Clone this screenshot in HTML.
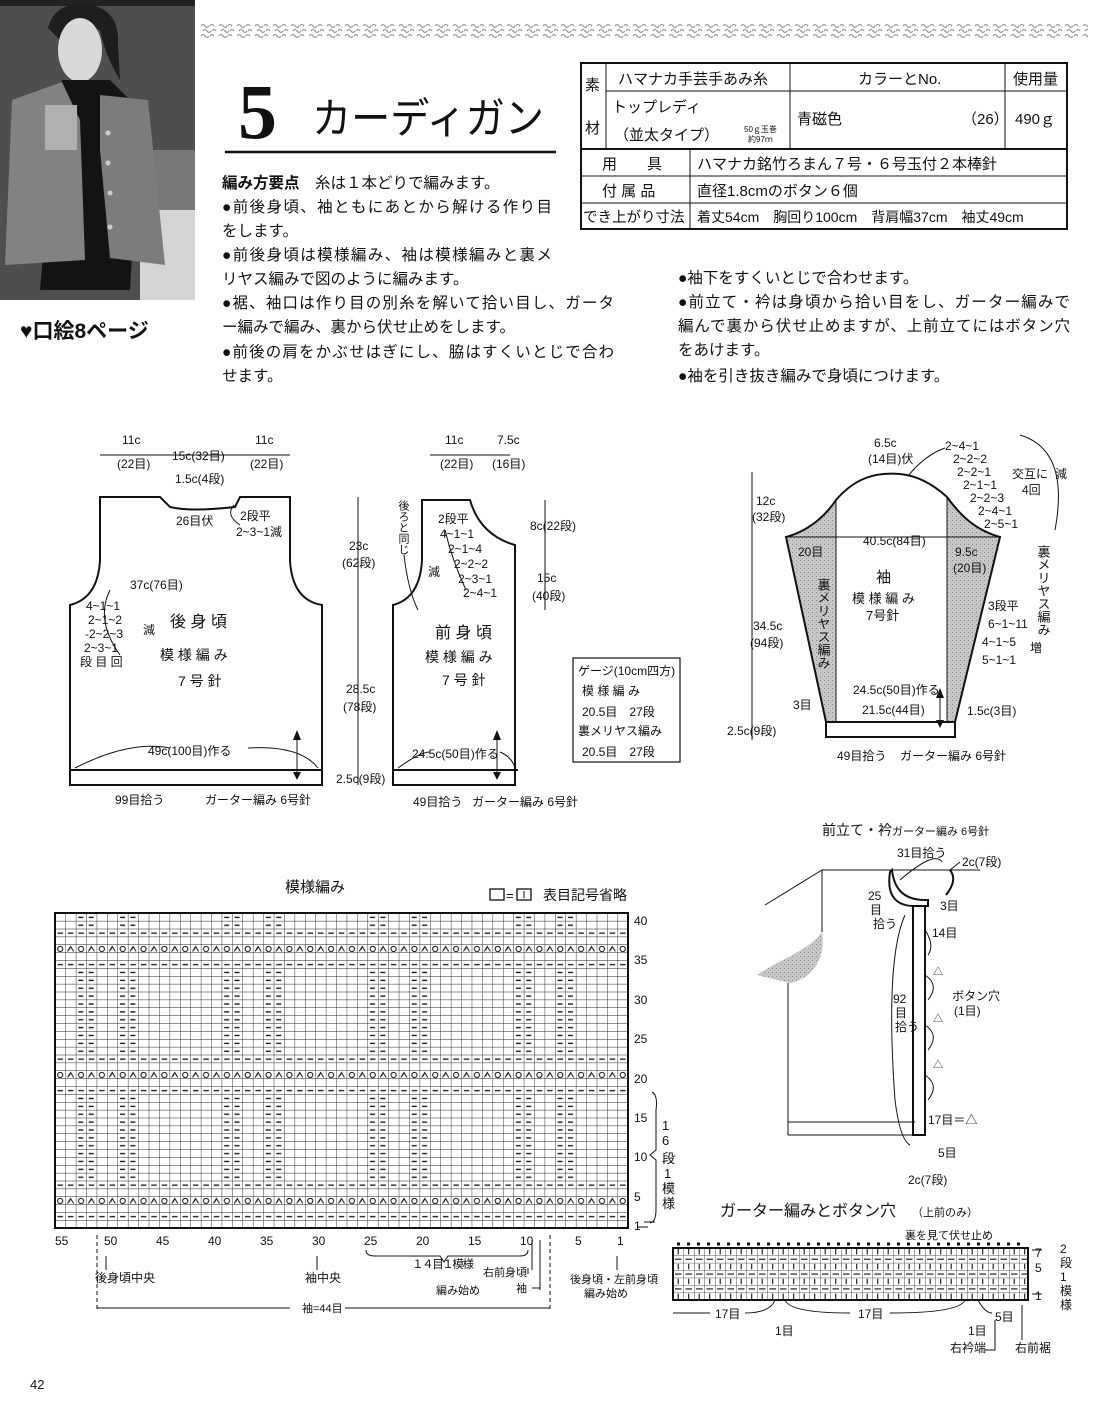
<!DOCTYPE html>
<html><head><meta charset="utf-8"><style>
html,body{margin:0;padding:0;background:#fff;}
svg{display:block;}
text{font-family:"Liberation Sans","Noto Sans CJK JP",sans-serif;fill:#111;}
</style></head><body>
<svg width="1100" height="1413" viewBox="0 0 1100 1413" xmlns="http://www.w3.org/2000/svg">
<defs>
<pattern id="deco" x="200" y="22" width="18" height="18" patternUnits="userSpaceOnUse">
<path d="M1,4 q2,-3 4,0 t4,0 M3,9 q2,-3 4,0 t4,0 M1,14 q2,-3 4,0 t4,0 M10,4 q2,-3 4,0 M12,9 q2,-3 4,0 M10,14 q2,-3 4,0" stroke="#999" stroke-width="1.2" fill="none"/>
</pattern>
<pattern id="grid" x="55" y="913" width="10.418" height="7.875" patternUnits="userSpaceOnUse">
<path d="M0,0 V7.875 M0,0 H10.418" stroke="#222" stroke-width="0.9" fill="none"/>
</pattern>
<pattern id="drow" x="55" y="0" width="10.418" height="7.875" patternUnits="userSpaceOnUse">
<path d="M2.5,3.9 H8" stroke="#111" stroke-width="1.3"/>
</pattern>
<pattern id="orow" x="55" y="0" width="20.836" height="7.875" patternUnits="userSpaceOnUse">
<circle cx="5.2" cy="3.9" r="2.6" stroke="#111" stroke-width="1" fill="none"/>
<path d="M12.5,6.5 L15.6,1.5 L18.6,6.5 M15.6,1.5 L14,5" stroke="#111" stroke-width="1" fill="none"/>
</pattern>
<pattern id="crow" x="55" y="0" width="145.852" height="7.875" patternUnits="userSpaceOnUse">
<path d="M23.3,3.9 H28.3 M33.7,3.9 H38.7 M65,3.9 H70 M75.4,3.9 H80.4" stroke="#111" stroke-width="1.3"/>
</pattern>
<pattern id="shade" width="4" height="4" patternUnits="userSpaceOnUse">
<rect width="4" height="4" fill="#c8c8c8"/><rect width="1" height="1" fill="#888"/><rect x="2" y="2" width="1" height="1" fill="#aaa"/>
</pattern>
<pattern id="ggrid" x="673" y="1248" width="10.5" height="7.43" patternUnits="userSpaceOnUse">
<path d="M0,0 V7.43 M0,0 H10.5" stroke="#222" stroke-width="0.8" fill="none"/>
</pattern>
<pattern id="gl" x="673" y="1248" width="10.5" height="14.86" patternUnits="userSpaceOnUse">
<path d="M5.2,1 V6.5 M2,11.2 H8.5" stroke="#111" stroke-width="1.1"/>
</pattern>
</defs>

<!-- photo -->
<rect x="0" y="0" width="195" height="300" fill="#4e4e4e"/>
<rect x="0" y="0" width="195" height="6" fill="#222"/>
<rect x="150" y="150" width="45" height="60" fill="#777"/>
<rect x="140" y="210" width="55" height="90" fill="#d5d5d5"/>
<path d="M48,28 Q55,0 90,5 Q120,10 118,45 L120,80 Q105,55 100,30 Q80,25 60,40 Z" fill="#1e1e1e"/>
<ellipse cx="80" cy="50" rx="22" ry="32" fill="#d8d8d8"/>
<path d="M62,80 L110,80 L140,110 L130,290 L40,290 L55,110 Z" fill="#131313"/>
<path d="M12,100 L62,82 L80,120 L85,260 L5,265 Z" fill="#828282"/>
<path d="M100,95 L148,100 L165,265 L110,258 L100,150 Z" fill="#7c7c7c"/>
<rect x="45" y="105" width="32" height="45" fill="#b0b0b0"/>
<circle cx="108" cy="133" r="2.5" fill="#ccc"/><circle cx="108" cy="163" r="2.5" fill="#ccc"/><circle cx="110" cy="193" r="2.5" fill="#ccc"/><circle cx="110" cy="227" r="2.5" fill="#ccc"/>

<!-- deco band -->
<rect x="200" y="22" width="888" height="18" fill="url(#deco)"/>

<!-- title -->
<text x="238" y="138" font-size="78" font-weight="bold" style="font-family:'Liberation Serif',serif">5</text>
<text x="312" y="133" font-size="42" textLength="232" lengthAdjust="spacingAndGlyphs">カーディガン</text>
<line x1="225" y1="152" x2="556" y2="152" stroke="#111" stroke-width="2.5"/>
<text x="20" y="338" font-size="21" font-weight="bold">♥口絵8ページ</text>

<!-- table -->
<g stroke="#111" fill="none">
<rect x="581" y="63" width="486" height="166" stroke-width="2"/>
<line x1="606" y1="63" x2="606" y2="149"/>
<line x1="790" y1="63" x2="790" y2="149"/>
<line x1="1005" y1="63" x2="1005" y2="149"/>
<line x1="606" y1="91" x2="1067" y2="91"/>
<line x1="581" y1="149" x2="1067" y2="149" stroke-width="2"/>
<line x1="581" y1="176" x2="1067" y2="176"/>
<line x1="581" y1="203" x2="1067" y2="203"/>
<line x1="690" y1="149" x2="690" y2="229"/>
</g>
<g font-size="15">
<text x="585" y="90">素</text><text x="585" y="133">材</text>
<text x="618" y="84">ハマナカ手芸手あみ糸</text>
<text x="858" y="84">カラーとNo.</text>
<text x="1013" y="84">使用量</text>
<text x="612" y="112">トップレディ</text>
<text x="614" y="140">（並太タイプ）</text>
<text x="744" y="132" font-size="8">50ｇ玉巻</text><text x="748" y="142" font-size="8">約97ｍ</text>
<text x="797" y="124">青磁色</text><text x="962" y="124">（26）</text>
<text x="1015" y="124">490ｇ</text>
<text x="602" y="169">用　　具</text>
<text x="697" y="169">ハマナカ銘竹ろまん７号・６号玉付２本棒針</text>
<text x="602" y="196">付 属 品</text>
<text x="697" y="196">直径1.8cmのボタン６個</text>
<text x="583" y="222" font-size="14.5">でき上がり寸法</text>
<text x="697" y="222" font-size="14">着丈54cm　胸回り100cm　背肩幅37cm　袖丈49cm</text>
</g>

<!-- body text -->
<g font-size="15.5">
<text x="222" y="188"><tspan font-weight="bold">編み方要点</tspan>　糸は１本どりで編みます。</text>
<text x="222" y="212" textLength="330">●前後身頃、袖ともにあとから解ける作り目</text>
<text x="222" y="236">をします。</text>
<text x="222" y="260" textLength="330">●前後身頃は模様編み、袖は模様編みと裏メ</text>
<text x="222" y="284">リヤス編みで図のように編みます。</text>
<text x="222" y="308" textLength="392">●裾、袖口は作り目の別糸を解いて拾い目し、ガータ</text>
<text x="222" y="332">ー編みで編み、裏から伏せ止めをします。</text>
<text x="222" y="357" textLength="392">●前後の肩をかぶせはぎにし、脇はすくいとじで合わ</text>
<text x="222" y="381">せます。</text>
<text x="678" y="283">●袖下をすくいとじで合わせます。</text>
<text x="678" y="307" textLength="392">●前立て・衿は身頃から拾い目をし、ガーター編みで</text>
<text x="678" y="331" textLength="392">編んで裏から伏せ止めますが、上前立てにはボタン穴</text>
<text x="678" y="355">をあけます。</text>
<text x="678" y="381">●袖を引き抜き編みで身頃につけます。</text>
</g>

<!-- BACK -->
<g stroke="#111" fill="none" stroke-width="2">
<path d="M100,497 H160 L170,507 Q190,512 235,507 L240,497 H290 V560 Q292,600 322,605 V785 H70 V605 Q98,598 100,560 Z"/>
<line x1="70" y1="770" x2="322" y2="770"/>
</g>
<g stroke="#111" fill="none" stroke-width="1">
<line x1="100" y1="455" x2="290" y2="455"/>
<line x1="358" y1="497" x2="358" y2="785"/>
<path d="M75,768 Q130,740 170,748 M248,748 Q300,745 318,768"/>
<path d="M297,735 V776"/>
<path d="M110,590 Q95,620 120,655"/>
<path d="M234,505 Q225,515 240,525"/>
</g>
<path d="M293,740 L297,730 L301,740 Z M293,772 L297,780 L301,772 Z" fill="#111"/>
<g font-size="12">
<text x="122" y="444">11c</text><text x="117" y="468">(22目)</text>
<text x="172" y="460">15c(32目)</text>
<text x="255" y="444">11c</text><text x="250" y="468">(22目)</text>
<text x="175" y="483">1.5c(4段)</text>
<text x="176" y="525">26目伏</text>
<text x="240" y="520">2段平</text><text x="236" y="536">2~3~1減</text>
<text x="130" y="589">37c(76目)</text>
<text x="86" y="610">4~1~1</text><text x="88" y="624">2~1~2</text><text x="85" y="638">-2~2~3</text><text x="84" y="652">2~3~1</text>
<text x="80" y="666">段 目 回</text><text x="143" y="634">減</text>
<text x="170" y="627" font-size="16">後 身 頃</text>
<text x="160" y="660" font-size="14">模 様 編 み</text>
<text x="178" y="686" font-size="14">7 号 針</text>
<text x="148" y="755">49c(100目)作る</text>
<text x="115" y="804">99目拾う</text>
<text x="205" y="804">ガーター編み 6号針</text>
<text x="349" y="550">23c</text><text x="342" y="567">(62段)</text>
<text x="346" y="693">28.5c</text><text x="343" y="711">(78段)</text>
<text x="336" y="783">2.5c(9段)</text>
</g>

<!-- FRONT -->
<g stroke="#111" fill="none" stroke-width="2">
<path d="M422,500 H470 Q480,535 515,545 V785 H393 V605 Q420,598 422,560 Z"/>
<line x1="393" y1="770" x2="518" y2="770"/>
</g>
<g stroke="#111" fill="none" stroke-width="1">
<line x1="430" y1="455" x2="510" y2="455"/>
<line x1="545" y1="500" x2="545" y2="610"/>
<path d="M398,768 Q420,752 430,752 M500,752 Q512,757 515,768"/>
<path d="M497,735 V776"/>
<path d="M404,555 Q408,590 418,610"/>
<path d="M445,530 Q452,560 466,590"/>
</g>
<path d="M493,740 L497,730 L501,740 Z M493,772 L497,780 L501,772 Z" fill="#111"/>
<g font-size="12">
<text x="445" y="444">11c</text><text x="440" y="468">(22目)</text>
<text x="497" y="444">7.5c</text><text x="492" y="468">(16目)</text>
<text x="403" y="500" writing-mode="tb" font-size="11">後ろと同じ</text>
<text x="438" y="523">2段平</text>
<text x="440" y="538">4~1~1</text><text x="448" y="553">2~1~4</text><text x="454" y="568">2~2~2</text>
<text x="458" y="583">2~3~1</text><text x="463" y="597">2~4~1</text><text x="428" y="576">減</text>
<text x="530" y="530">8c(22段)</text>
<text x="537" y="582">15c</text><text x="532" y="600">(40段)</text>
<text x="435" y="638" font-size="16">前 身 頃</text>
<text x="425" y="662" font-size="14">模 様 編 み</text>
<text x="442" y="685" font-size="14">7 号 針</text>
<text x="412" y="758">24.5c(50目)作る</text>
<text x="413" y="806">49目拾う</text>
<text x="472" y="806">ガーター編み 6号針</text>
</g>
<!-- gauge -->
<rect x="573" y="658" width="107" height="104" fill="none" stroke="#111" stroke-width="1.2"/>
<g font-size="12">
<text x="578" y="675">ゲージ(10cm四方)</text>
<text x="582" y="695">模 様 編 み</text>
<text x="582" y="716">20.5目　27段</text>
<text x="578" y="735">裏メリヤス編み</text>
<text x="582" y="756">20.5目　27段</text>
</g>

<!-- SLEEVE -->
<path d="M786,537 C812,530 828,512 836,500 L836,722 L826,722 Z" fill="url(#shade)"/>
<path d="M947,497 C960,515 975,530 1000,537 L955,722 L947,722 Z" fill="url(#shade)"/>
<g stroke="#111" fill="none" stroke-width="2">
<path d="M786,537 C812,530 828,512 836,500 C855,478 875,472 900,474 C920,476 935,486 947,497 C960,515 975,530 1000,537 L955,722 L826,722 Z"/>
<rect x="826" y="722" width="129" height="15"/>
</g>
<g stroke="#111" fill="none" stroke-width="1">
<line x1="836" y1="500" x2="836" y2="722"/>
<line x1="947" y1="497" x2="947" y2="722"/>
<line x1="752" y1="472" x2="752" y2="740"/>
<line x1="786" y1="537" x2="1000" y2="537"/>
<path d="M908,476 Q925,455 945,448"/>
<path d="M1020,435 Q1070,450 1055,530"/>
<path d="M940,690 V720"/>
</g>
<path d="M936,698 L940,688 L944,698 Z M936,720 L940,728 L944,720 Z" fill="#111"/>
<g font-size="12">
<text x="874" y="447">6.5c</text><text x="868" y="463">(14目)伏</text>
<text x="945" y="450">2~4~1</text><text x="953" y="463">2~2~2</text><text x="957" y="476">2~2~1</text>
<text x="963" y="489">2~1~1</text><text x="970" y="502">2~2~3</text><text x="978" y="515">2~4~1</text><text x="984" y="528">2~5~1</text>
<text x="1012" y="478">交互に</text><text x="1022" y="494">4回</text><text x="1055" y="478">減</text>
<text x="756" y="505">12c</text><text x="752" y="521">(32段)</text>
<text x="753" y="630">34.5c</text><text x="750" y="647">(94段)</text>
<text x="727" y="735">2.5c(9段)</text>
<text x="863" y="545">40.5c(84目)</text>
<text x="798" y="556">20目</text>
<text x="955" y="556">9.5c</text><text x="953" y="572">(20目)</text>
<text x="823" y="578" writing-mode="tb" font-size="13">裏メリヤス編み</text>
<text x="1043" y="545" writing-mode="tb" font-size="13">裏メリヤス編み</text>
<text x="876" y="582" font-size="15">袖</text>
<text x="852" y="603" font-size="13">模 様 編 み</text>
<text x="866" y="620" font-size="13">7号針</text>
<text x="988" y="610">3段平</text><text x="988" y="628">6~1~11</text><text x="982" y="646">4~1~5</text><text x="982" y="664">5~1~1</text>
<text x="1030" y="652">増</text>
<text x="853" y="694">24.5c(50目)作る</text>
<text x="862" y="714">21.5c(44目)</text>
<text x="793" y="709">3目</text>
<text x="967" y="715">1.5c(3目)</text>
<text x="837" y="760">49目拾う</text>
<text x="900" y="760">ガーター編み 6号針</text>
</g>

<!-- CHART -->
<text x="285" y="892" font-size="15">模様編み</text>
<rect x="490" y="889" width="14" height="11" fill="none" stroke="#111" stroke-width="1.3"/>
<text x="506" y="900" font-size="13">=</text>
<rect x="517" y="889" width="14" height="11" fill="none" stroke="#111" stroke-width="1.3"/>
<line x1="524" y1="891" x2="524" y2="898" stroke="#111"/>
<text x="543" y="900" font-size="14">表目記号省略</text>
<rect x="55" y="913" width="573" height="315" fill="url(#grid)"/>
<rect x="55" y="1212.25" width="573" height="7.875" fill="url(#drow)"/>
<rect x="55" y="1196.5" width="573" height="7.875" fill="url(#orow)"/>
<rect x="55" y="1180.75" width="573" height="7.875" fill="url(#drow)"/>
<rect x="55" y="1094.125" width="573" height="86.625" fill="url(#crow)"/>
<rect x="55" y="1086.25" width="573" height="7.875" fill="url(#drow)"/>
<rect x="55" y="1070.5" width="573" height="7.875" fill="url(#orow)"/>
<rect x="55" y="1054.75" width="573" height="7.875" fill="url(#drow)"/>
<rect x="55" y="968.125" width="573" height="86.625" fill="url(#crow)"/>
<rect x="55" y="960.25" width="573" height="7.875" fill="url(#drow)"/>
<rect x="55" y="944.5" width="573" height="7.875" fill="url(#orow)"/>
<rect x="55" y="928.75" width="573" height="7.875" fill="url(#drow)"/>
<rect x="55" y="913" width="573" height="15.75" fill="url(#crow)"/>
<rect x="55" y="913" width="573" height="315" fill="none" stroke="#111" stroke-width="2"/>
<g font-size="12">
<text x="634" y="925">40</text><text x="634" y="964">35</text><text x="634" y="1004">30</text><text x="634" y="1043">25</text>
<text x="634" y="1083">20</text><text x="634" y="1122">15</text><text x="634" y="1161">10</text><text x="634" y="1201">5</text><text x="634" y="1230">1</text>
<text x="55" y="1245">55</text><text x="104" y="1245">50</text><text x="156" y="1245">45</text><text x="208" y="1245">40</text>
<text x="260" y="1245">35</text><text x="312" y="1245">30</text><text x="364" y="1245">25</text><text x="416" y="1245">20</text>
<text x="468" y="1245">15</text><text x="520" y="1245">10</text><text x="575" y="1245">5</text><text x="617" y="1245">1</text>
<text x="662" y="1130" font-size="13">1</text><text x="662" y="1145" font-size="13">6</text>
<text x="662" y="1163" font-size="13">段</text><text x="664" y="1178" font-size="13">1</text>
<text x="662" y="1193" font-size="13">模</text><text x="662" y="1208" font-size="13">様</text>
<text x="412" y="1268" font-size="11.5" textLength="62">１４目１模様</text>
<text x="95" y="1282">後身頃中央</text>
<text x="305" y="1282">袖中央</text>
<text x="483" y="1276" font-size="11">右前身頃</text>
<text x="516" y="1292" font-size="11">袖</text>
<text x="436" y="1294" font-size="11">編み始め</text>
<text x="570" y="1283" font-size="11">後身頃・左前身頃</text>
<text x="584" y="1297" font-size="11">編み始め</text>
<text x="302" y="1312" font-size="11">袖=44目</text>
</g>
<g stroke="#111" fill="none" stroke-width="1">
<path d="M652,1092 Q658,1095 656,1110 V1150 L650,1155 L656,1160 V1210 Q656,1222 650,1223"/>
<path d="M644,1222 H655 M648,1227 H638"/>
<path d="M366,1250 Q366,1256 375,1256 H440 L444,1262 L448,1256 H520 Q528,1256 528,1250"/>
<line x1="97" y1="1235" x2="97" y2="1310" stroke-dasharray="4,3"/>
<line x1="550" y1="1235" x2="550" y2="1310" stroke-dasharray="4,3"/>
<line x1="97" y1="1308" x2="290" y2="1308"/><line x1="345" y1="1308" x2="550" y2="1308"/>
<path d="M106,1270 V1256 M317,1270 V1256 M532,1270 V1240 M540,1290 V1240 M617,1270 V1256"/>
<path d="M528,1274 V1268 M532,1288 H540"/>
</g>

<!-- FRONT BAND DIAGRAM -->
<text x="822" y="835" font-size="14">前立て・衿</text>
<text x="892" y="835" font-size="11">ガーター編み 6号針</text>
<path d="M757,975 C775,962 810,950 822,932 C826,955 815,978 790,983 Z" fill="url(#shade)"/>
<g stroke="#111" fill="none">
<path d="M765,905 L822,870 V932" stroke-width="1"/>
<path d="M788,983 V1135 M788,1122 H915 M788,1135 H925" stroke-width="1"/>
<line x1="822" y1="870" x2="980" y2="870" stroke-width="1"/>
<path d="M892,870 Q895,900 925,900 H928 V906 H913 Q885,905 890,872 Z" stroke-width="2"/>
<path d="M950,870 Q958,880 946,895" stroke-width="2"/>
<rect x="913" y="906" width="12" height="229" stroke-width="2"/>
<path d="M925,930 Q935,945 928,955 M925,975 Q940,985 928,1000 M925,1025 Q940,1035 928,1050 M925,1075 Q940,1085 928,1100" stroke-width="1"/>
<path d="M900,880 Q935,850 942,862 M950,870 L960,862" stroke-width="1"/>
<path d="M905,915 Q885,960 895,1100 Q900,1140 910,1145" stroke-width="1"/>
</g>
<g font-size="12">
<text x="897" y="857">31目拾う</text>
<text x="962" y="866">2c(7段)</text>
<text x="868" y="900">25</text><text x="870" y="914">目</text><text x="873" y="928">拾う</text>
<text x="940" y="910">3目</text>
<text x="932" y="937">14目</text>
<text x="952" y="1000">ボタン穴</text><text x="954" y="1015">(1目)</text>
<text x="893" y="1003">92</text><text x="895" y="1017">目</text><text x="895" y="1031">拾う</text>
<text x="928" y="1124">17目＝△</text>
<text x="938" y="1157">5目</text>
<text x="908" y="1184">2c(7段)</text>
<text x="933" y="975" font-size="10">△</text><text x="933" y="1022" font-size="10">△</text><text x="933" y="1068" font-size="10">△</text>
</g>

<!-- GARTER CHART -->
<text x="720" y="1216" font-size="16">ガーター編みとボタン穴</text>
<text x="912" y="1216" font-size="11">（上前のみ）</text>
<text x="905" y="1239" font-size="11">裏を見て伏せ止め</text>
<line x1="677" y1="1244" x2="1025" y2="1244" stroke="#111" stroke-width="3" stroke-dasharray="3,7"/>
<rect x="673" y="1248" width="355" height="52" fill="url(#ggrid)"/>
<rect x="673" y="1248" width="355" height="52" fill="url(#gl)"/>
<rect x="673" y="1248" width="355" height="52" fill="none" stroke="#111" stroke-width="2"/>
<g font-size="12">
<text x="1035" y="1257">7</text><text x="1035" y="1272">5</text><text x="1035" y="1300">1</text>
<text x="1060" y="1253">2</text><text x="1060" y="1267">段</text><text x="1060" y="1281">1</text><text x="1060" y="1295">模</text><text x="1060" y="1309">様</text>
<text x="715" y="1318">17目</text><text x="858" y="1318">17目</text>
<text x="775" y="1335">1目</text><text x="968" y="1335">1目</text><text x="995" y="1321">5目</text>
<text x="950" y="1352">右衿端</text><text x="1015" y="1352">右前裾</text>
<text x="30" y="1389" font-size="13">42</text>
</g>
<g stroke="#111" fill="none" stroke-width="1">
<line x1="673" y1="1313" x2="710" y2="1313"/><path d="M745,1313 Q770,1313 775,1300 M785,1300 Q790,1313 850,1313 M890,1313 Q960,1313 965,1300 M978,1300 Q985,1313 992,1313"/>
<path d="M1022,1340 V1305 M985,1350 H995 V1320"/>
<path d="M1032,1250 L1042,1250 M1032,1294 L1042,1294"/>
</g>
</svg>
</body></html>
